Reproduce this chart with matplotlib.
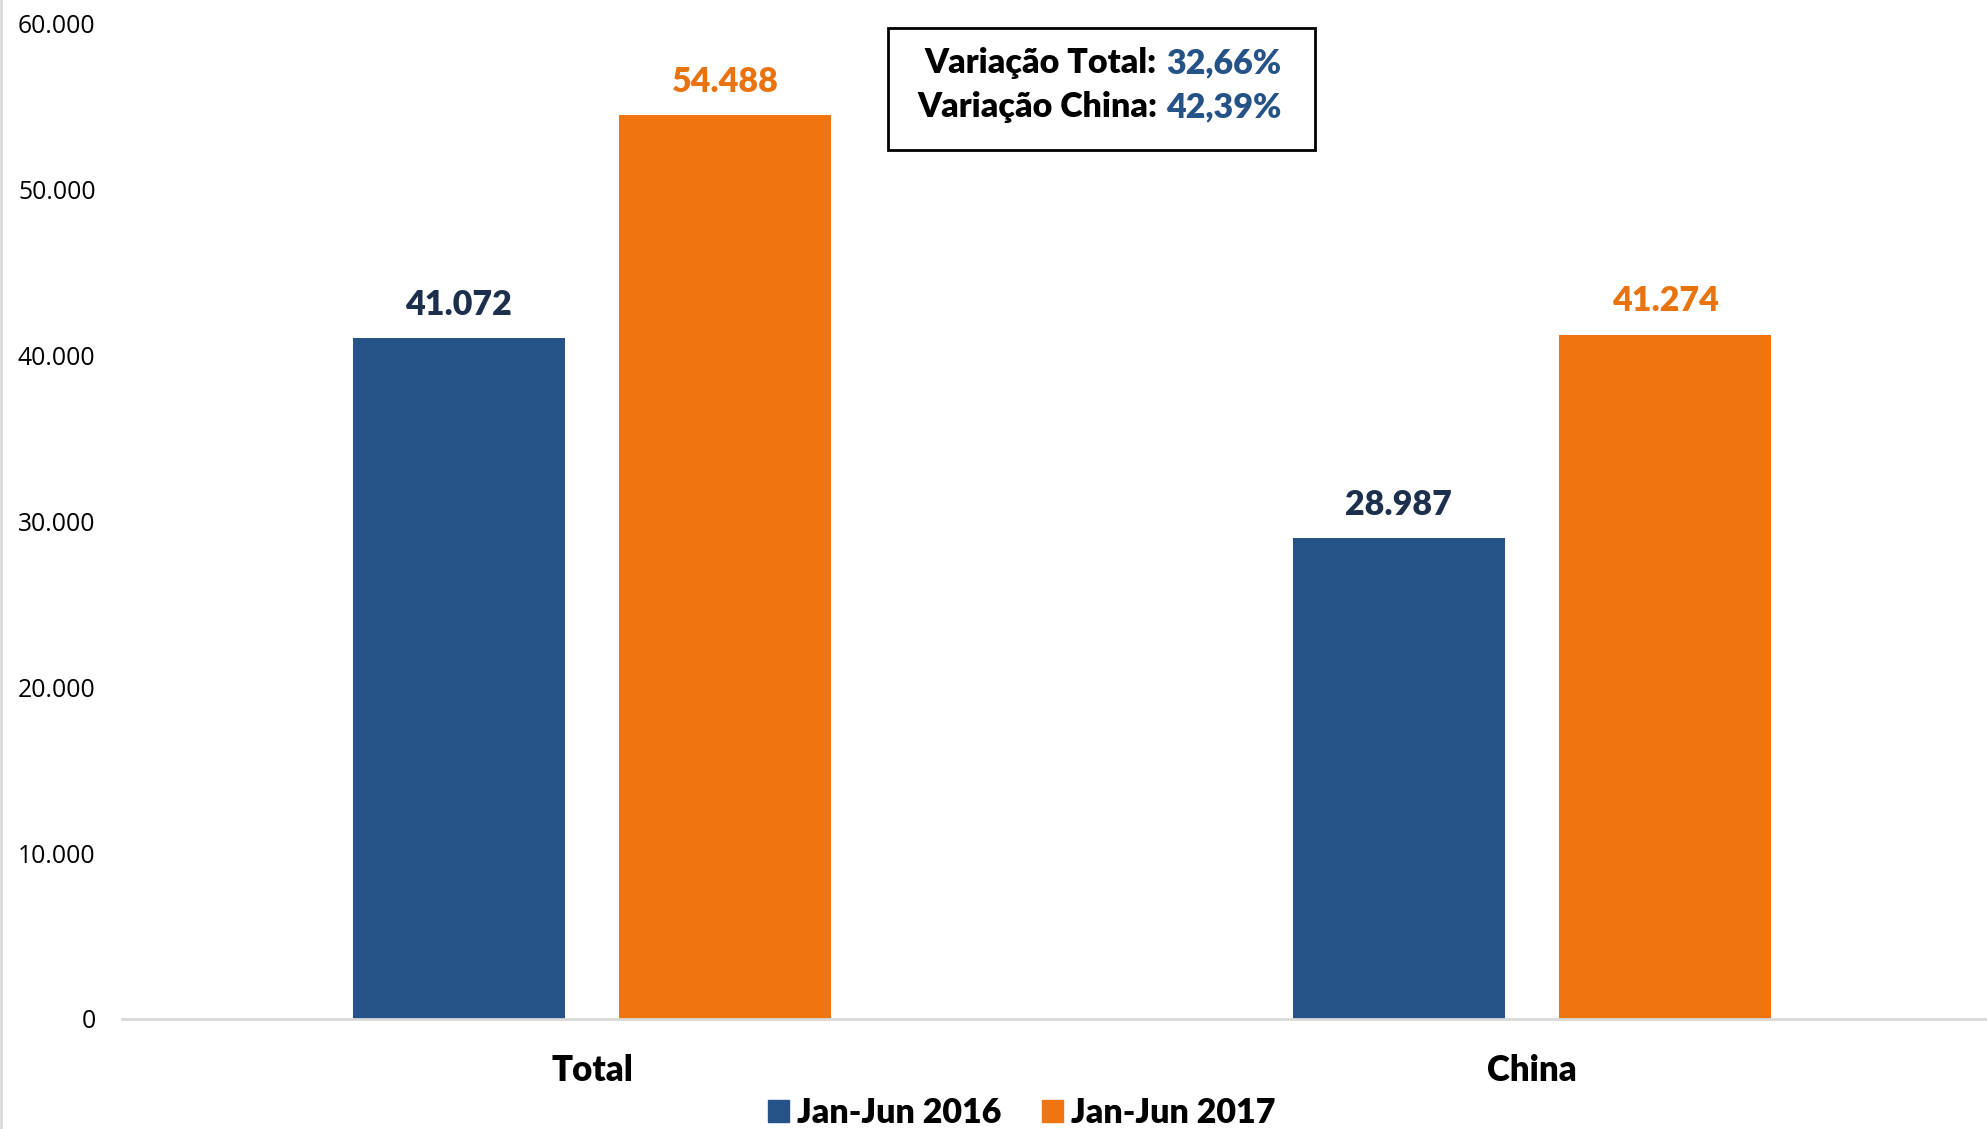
import matplotlib
matplotlib.use("Agg")
import matplotlib.pyplot as plt
import matplotlib.patches as mpatches
from matplotlib.lines import Line2D
from matplotlib.ticker import FuncFormatter
import numpy as np

# Data
categories = ['Total', 'China']
series_names = ['Jan-Jun 2016', 'Jan-Jun 2017']
values_2016 = [41072, 28987]
values_2017 = [54488, 41274]
variation_labels = ['Variação Total:', 'Variação China:']
variation_values = ['32,66%', '42,39%']

BLUE = '#255387'
ORANGE = '#F07511'
BLUE_TEXT = '#1C2F4D'
ORANGE_TEXT = '#E8730F'
BOLD_FONT = 'Lato'
WEIGHT = 'heavy'

W, H = 1987, 1129
fig = plt.figure(figsize=(W / 100, H / 100), dpi=100)


def fx(px):
    return px / W


def fy(py):
    return 1 - py / H


ax = fig.add_axes([fx(122), fy(1019), fx(1880), fy(24) - fy(1019)])

x = np.arange(len(categories))
width = 0.2255
offset = 0.142

bars1 = ax.bar(x - offset, values_2016, width, color=BLUE, label=series_names[0])
bars2 = ax.bar(x + offset, values_2017, width, color=ORANGE, label=series_names[1])


def fmt_thousands(v):
    return f'{int(round(v)):,}'.replace(',', '.')


# value labels above the bars
for bars, col in [(bars1, BLUE_TEXT), (bars2, ORANGE_TEXT)]:
    for b in bars:
        h = b.get_height()
        ax.annotate(fmt_thousands(h), (b.get_x() + b.get_width() / 2, h),
                    xytext=(0, 24), textcoords='offset points',
                    ha='center', va='center', fontsize=24.5, fontweight=WEIGHT,
                    family=BOLD_FONT, color=col)

ax.set_xlim(-0.5, 1.5)
ax.set_ylim(0, 60000)
ax.set_yticks(np.arange(0, 60001, 10000))
ax.yaxis.set_major_formatter(FuncFormatter(lambda v, p: fmt_thousands(v)))
ax.set_xticks(x)
ax.set_xticklabels(categories, fontsize=25, fontweight=WEIGHT, family=BOLD_FONT)

for lab in ax.get_yticklabels():
    lab.set_family('Open Sans')
    lab.set_fontsize(17.8)

ax.tick_params(axis='y', length=0, pad=19)
ax.tick_params(axis='x', length=0, pad=25)

for s in ['top', 'right', 'left']:
    ax.spines[s].set_visible(False)
ax.spines['bottom'].set_color('#D9D9D9')
ax.spines['bottom'].set_linewidth(2)

# figure border on the left
fig.add_artist(Line2D([fx(1), fx(1)], [0, 1], color='#D9D9D9', lw=2,
                      transform=fig.transFigure))

# variation box
box = mpatches.Rectangle((fx(888), fy(150)), fx(1315) - fx(888), fy(28) - fy(150),
                         transform=fig.transFigure, facecolor='white',
                         edgecolor='black', lw=2, zorder=5)
fig.add_artist(box)

line_y = [63, 107]
for lab, val, yy in zip(variation_labels, variation_values, line_y):
    fig.text(fx(1157), fy(yy), lab, ha='right', va='center', fontsize=24.5,
             fontweight=WEIGHT, family=BOLD_FONT, color='black', zorder=6)
    fig.text(fx(1166), fy(yy), val, ha='left', va='center', fontsize=24.5,
             fontweight=WEIGHT, family=BOLD_FONT, color=BLUE, zorder=6)

# legend
handles = [mpatches.Patch(color=BLUE), mpatches.Patch(color=ORANGE)]
leg = fig.legend(handles, series_names, loc='center',
                 bbox_to_anchor=(fx(1022), fy(1113)), ncol=2, frameon=False,
                 handlelength=0.6, handleheight=0.6, handletextpad=0.25,
                 columnspacing=1.2, borderpad=0,
                 prop={'family': BOLD_FONT, 'weight': WEIGHT, 'size': 24.5})

fig.savefig('out.png', dpi=100, facecolor='white')
